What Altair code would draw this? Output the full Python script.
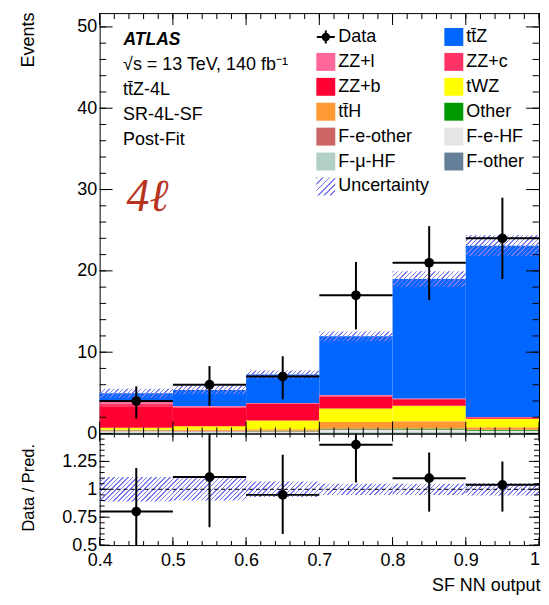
import altair as alt
import pandas as pd

# ---------------- values ----------------
edges = [0.4, 0.5, 0.6, 0.7, 0.8, 0.9, 1.0]
data_n = [4, 6, 7, 17, 21, 24]
data_lo = [1.85, 3.4, 4.2, 12.8, 16.4, 19.0]
data_hi = [5.8, 8.3, 9.5, 21.1, 25.5, 29.0]

# stack order bottom -> top
procs = ["F-other", "F-μ-HF", "F-e-HF", "F-e-other", "Other", "tt̄H", "tWZ",
         "ZZ+b", "ZZ+c", "ZZ+l", "tt̄Z"]
proc_colors = ["#667f99", "#b2d0c6", "#e5e5e5", "#cc6666", "#009900", "#ff9933",
               "#ffff00", "#ff0033", "#ff3366", "#ff6699", "#0066ff"]
y_f_other = [0.05, 0.05, 0.05, 0.08, 0.06, 0.05]
y_f_mu_hf = [0.10, 0.10, 0.08, 0.14, 0.14, 0.10]
y_f_e_hf = [0.12, 0.10, 0.10, 0.22, 0.22, 0.15]
y_f_e_other = [0.05, 0.05, 0.05, 0.08, 0.08, 0.05]
y_other = [0.04, 0.04, 0.05, 0.10, 0.12, 0.12]
y_tth = [0.14, 0.16, 0.20, 0.78, 0.89, 0.31]
y_twz = [0.20, 0.40, 1.07, 1.68, 1.90, 1.02]
y_zzb = [2.65, 2.30, 2.05, 1.47, 0.80, 0.18]
y_zzc = [0.35, 0.12, 0.07, 0.12, 0.07, 0.04]
y_zzl = [0.20, 0.06, 0.03, 0.06, 0.03, 0.02]
y_ttz = [1.05, 1.97, 3.50, 7.22, 14.69, 21.06]
yields = [y_f_other, y_f_mu_hf, y_f_e_hf, y_f_e_other, y_other, y_tth, y_twz,
          y_zzb, y_zzc, y_zzl, y_ttz]

ratio_val = [0.80, 1.11, 0.95, 1.40, 1.10, 1.04]
ratio_lo = [0.40, 0.66, 0.60, 1.06, 0.80, 0.80]
ratio_hi = [1.19, 1.56, 1.31, 1.74, 1.33, 1.25]
unc_rel = [0.11, 0.10, 0.07, 0.05, 0.05, 0.055]

legend_labels = ["Data", "tt̄Z", "ZZ+l", "ZZ+c", "ZZ+b", "tWZ", "tt̄H", "Other",
                 "F-e-other", "F-e-HF", "F-μ-HF", "F-other", "Uncertainty"]
info_lines = ["√s = 13 TeV, 140 fb⁻¹", "tt̄Z-4L", "SR-4L-SF", "Post-Fit"]

y_major = [0, 10, 20, 30, 40, 50]
r_labels = [0.5, 0.75, 1, 1.25]

# ---------------- layout / style ----------------
W, H1, H2, YMAX = 441, 422, 112, 51.7
FONT = "Liberation Sans"
FS = 18
HATCH = "#7b7bef"

xs = alt.Scale(domain=[0.4, 1.0], nice=False, zero=False)
ys = alt.Scale(domain=[0, YMAX], nice=False, zero=True)
yr = alt.Scale(domain=[0.5, 1.5], nice=False, zero=False)

ax_up_y = alt.Axis(values=y_major, title="Events", labelPadding=3,
                   labelExpr="toString(datum.value)",
                   titleX=-71, titleY=-1, titleAlign="right",
                   titleBaseline="middle", titleAngle=270)
ax_lo_y = alt.Axis(values=r_labels, title="Data / Pred.", labelPadding=3,
                   labelExpr="toString(datum.value)", titleFontSize=16.5,
                   titleX=-71, titleY=H2 / 2 - 2, titleAlign="center",
                   titleBaseline="middle", titleAngle=270)
ax_lo_x = alt.Axis(values=edges, title="SF NN output", labelPadding=6,
                   labelExpr="datum.value == 1 ? '' : toString(datum.value)",
                   titleX=W + 1, titleY=46, titleAlign="right",
                   titleBaseline="alphabetic", titleAnchor="end")

nb = len(data_n)
lo_e = edges[:-1]
hi_e = edges[1:]
centers = [(a + b) / 2 for a, b in zip(lo_e, hi_e)]
pred = [sum(v[i] for v in yields) for i in range(nb)]
one = pd.DataFrame({"k": [0]})

x_major = edges
x_minor = [round(0.4 + 0.02 * k, 2) for k in range(31)]
y_minor = [2 * k for k in range(26)]
r_major = [0.5, 0.75, 1.0, 1.25, 1.5]
r_minor = [round(0.5 + 0.05 * k, 2) for k in range(21)]


def hatch(wpx, hpx, spacing=4.6, frac=0.32, color=HATCH):
    r = hpx / wpx
    k = (1 + r) / (1 + r * r)
    n = max(1, int(round((wpx + hpx) / spacing)))
    stops = []
    clear = "rgba(255,255,255,0)"
    for i in range(n):
        a, b, c = i / n, (i + frac) / n, (i + 1) / n
        stops += [{"offset": a, "color": color}, {"offset": b, "color": color},
                  {"offset": b, "color": clear}, {"offset": c, "color": clear}]
    return {"gradient": "linear", "x1": 0, "y1": 0, "x2": k, "y2": k * r,
            "stops": stops}


def XU(f):
    return alt.X(f, scale=xs, axis=None)


def XL(f):
    return alt.X(f, scale=xs, axis=ax_lo_x)


def YU(f):
    return alt.Y(f, scale=ys, axis=ax_up_y)


def YL(f):
    return alt.Y(f, scale=yr, axis=ax_lo_y)


def tick_layers(XF, YF, H, ymaj, ymin, lx_maj, lx_min, ly_maj, ly_min):
    out = []
    for vals, L in ((x_major, lx_maj), (x_minor, lx_min)):
        d = pd.DataFrame({"v": vals})
        out.append(alt.Chart(d).mark_rule(color="black", strokeWidth=1).encode(
            x=XF("v:Q"), y=alt.value(H), y2=alt.value(H - L)))
        out.append(alt.Chart(d).mark_rule(color="black", strokeWidth=1).encode(
            x=XF("v:Q"), y=alt.value(0), y2=alt.value(L)))
    for vals, L in ((ymaj, ly_maj), (ymin, ly_min)):
        d = pd.DataFrame({"v": vals})
        out.append(alt.Chart(d).mark_rule(color="black", strokeWidth=1).encode(
            y=YF("v:Q"), x=alt.value(0), x2=alt.value(L)))
        out.append(alt.Chart(d).mark_rule(color="black", strokeWidth=1).encode(
            y=YF("v:Q"), x=alt.value(W), x2=alt.value(W - L)))
    return out


def txt(s, x, y, size=FS, align="left", baseline="alphabetic", **kw):
    return alt.Chart(one).mark_text(align=align, baseline=baseline, font=kw.pop("font", FONT),
                                    fontSize=size, color=kw.pop("color", "black"), **kw).encode(
        x=alt.value(x), y=alt.value(y), text=alt.value(s))


# ---------------- upper panel ----------------
rows = []
for i in range(nb):
    cum = 0.0
    for p, vals in zip(procs, yields):
        rows.append(dict(x0=lo_e[i], x1=hi_e[i], y0=cum, y1=cum + vals[i], proc=p))
        cum += vals[i]
stack_df = pd.DataFrame(rows)

upper_layers = []
upper_layers.append(alt.Chart(stack_df).mark_rect().encode(
    x=XU("x0:Q"), x2=alt.X2("x1"),
    y=YU("y0:Q"), y2=alt.Y2("y1"),
    color=alt.Color("proc:N", scale=alt.Scale(domain=procs, range=proc_colors), legend=None)))

for i in range(nb):
    d = pd.DataFrame({"x0": [lo_e[i]], "x1": [hi_e[i]],
                      "b0": [pred[i] * (1 - unc_rel[i])], "b1": [pred[i] * (1 + unc_rel[i])]})
    hpx = 2 * unc_rel[i] * pred[i] * H1 / YMAX
    upper_layers.append(alt.Chart(d).mark_rect(fill=hatch(W / nb, hpx)).encode(
        x=XU("x0:Q"), x2=alt.X2("x1"), y=YU("b0:Q"), y2=alt.Y2("b1")))

upper_layers += tick_layers(XU, YU, H1, y_major, y_minor, 12, 6, 13, 6.5)

ddf = pd.DataFrame(dict(x0=lo_e, x1=hi_e, xc=centers, n=data_n, lo=data_lo, hi=data_hi))
upper_layers.append(alt.Chart(ddf).mark_rule(color="black", strokeWidth=2).encode(
    x=XU("xc:Q"), y=YU("lo:Q"), y2=alt.Y2("hi")))
upper_layers.append(alt.Chart(ddf).mark_rule(color="black", strokeWidth=2).encode(
    x=XU("x0:Q"), x2=alt.X2("x1"), y=YU("n:Q")))
upper_layers.append(alt.Chart(ddf).mark_circle(color="black", size=95, opacity=1).encode(
    x=XU("xc:Q"), y=YU("n:Q")))

# labels
upper_layers.append(txt("ATLAS", 24, 32, size=17.5, fontStyle="italic", fontWeight="bold"))
for j, s in enumerate(info_lines):
    upper_layers.append(txt(s, 23.5, 57 + 25 * j))
upper_layers.append(txt("4ℓ", 27, 199, size=46, font="Liberation Serif",
                        fontStyle="italic", color="#b8331d"))

# legend
color_of = dict(zip(procs, proc_colors))
for idx, lab in enumerate(legend_labels):
    col, row = idx % 2, idx // 2
    cx = 227 + 128.5 * col
    cy = 24 + 25 * row
    if lab == "Data":
        upper_layers.append(alt.Chart(one).mark_rule(color="black", strokeWidth=2).encode(
            x=alt.value(cx - 9), x2=alt.value(cx + 9), y=alt.value(cy)))
        upper_layers.append(alt.Chart(one).mark_rule(color="black", strokeWidth=2).encode(
            x=alt.value(cx), y=alt.value(cy - 6.5), y2=alt.value(cy + 6.5)))
        upper_layers.append(alt.Chart(one).mark_circle(color="black", size=70, opacity=1).encode(
            x=alt.value(cx), y=alt.value(cy)))
    elif lab == "Uncertainty":
        upper_layers.append(alt.Chart(one).mark_rect(fill=hatch(19, 18, spacing=6.5, frac=0.3)).encode(
            x=alt.value(cx - 9.5), x2=alt.value(cx + 9.5), y=alt.value(cy - 9), y2=alt.value(cy + 9)))
    else:
        upper_layers.append(alt.Chart(one).mark_rect(color=color_of[lab]).encode(
            x=alt.value(cx - 9.5), x2=alt.value(cx + 9.5), y=alt.value(cy - 9), y2=alt.value(cy + 9)))
    upper_layers.append(txt(lab, cx + 12.5, cy, baseline="middle"))

upper = alt.layer(*upper_layers).properties(width=W, height=H1)

# ---------------- lower (ratio) panel ----------------
lower_layers = []
for i in range(nb):
    d = pd.DataFrame({"x0": [lo_e[i]], "x1": [hi_e[i]],
                      "b0": [1 - unc_rel[i]], "b1": [1 + unc_rel[i]]})
    hpx = 2 * unc_rel[i] * H2
    lower_layers.append(alt.Chart(d).mark_rect(fill=hatch(W / nb, hpx)).encode(
        x=XL("x0:Q"), x2=alt.X2("x1"), y=YL("b0:Q"), y2=alt.Y2("b1")))

lower_layers.append(alt.Chart(pd.DataFrame({"v": [1.0]})).mark_rule(
    color="black", strokeWidth=1, strokeDash=[4, 3]).encode(y=YL("v:Q")))

lower_layers += tick_layers(XL, YL, H2, r_major, r_minor, 8, 4, 10, 5)

rdf = pd.DataFrame(dict(x0=lo_e, x1=hi_e, xc=centers, r=ratio_val, lo=ratio_lo, hi=ratio_hi))
lower_layers.append(alt.Chart(rdf).mark_rule(color="black", strokeWidth=2, clip=True).encode(
    x=XL("xc:Q"), y=YL("lo:Q"), y2=alt.Y2("hi")))
lower_layers.append(alt.Chart(rdf).mark_rule(color="black", strokeWidth=2, clip=True).encode(
    x=XL("x0:Q"), x2=alt.X2("x1"), y=YL("r:Q")))
lower_layers.append(alt.Chart(rdf).mark_circle(color="black", size=95, opacity=1, clip=True).encode(
    x=XL("xc:Q"), y=YL("r:Q")))
# last x tick label, kept inside the page
lower_layers.append(txt("1", W + 1, H2 + 6, align="right", baseline="top"))

lower = alt.layer(*lower_layers).properties(width=W, height=H2)

chart = alt.vconcat(upper, lower, spacing=0, bounds="flush").properties(
    padding={"left": 11, "top": 2, "right": 0, "bottom": 0}
).configure_view(stroke="black", strokeWidth=1).configure_axis(
    labelFont=FONT, titleFont=FONT, labelFontSize=FS, titleFontSize=FS,
    labelColor="black", titleColor="black", titleFontWeight="normal",
    grid=False, domain=False, ticks=False, tickSize=0, labelFlush=False,
    labelOverlap=False
)

chart.save("out.html", embed_options={"renderer": "svg", "actions": False})
